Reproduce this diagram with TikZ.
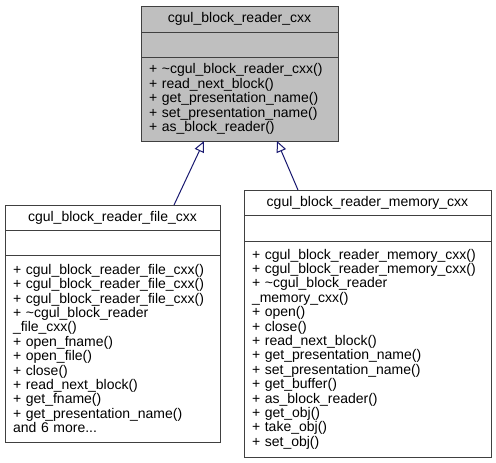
\documentclass[tikz,border=0pt]{standalone}
\usepackage{fontspec}
\setmainfont{Liberation Sans}
\usetikzlibrary{positioning,arrows.meta}
\definecolor{boxline}{HTML}{404040}
\definecolor{basefill}{HTML}{BFBFBF}
\definecolor{linkblue}{HTML}{191970}
\begin{document}
\begin{tikzpicture}[x=1pt, y=1pt,
    part/.style={draw=boxline, line width=1pt, outer sep=0pt, inner sep=0pt, font=\fontsize{14}{14.4}\selectfont},
    members/.style={part, align=left, inner xsep=8pt, text width=#1},
    inherit/.style={draw=linkblue, line width=1pt, -{Triangle[open, length=11pt, width=10pt]}}]
    \useasboundingbox (0,0) rectangle (496,-463);
        % base class
        \node[part, fill=basefill, minimum width=197pt, minimum height=26pt] (base) at (239.5,-19) {cgul\_block\_reader\_cxx};
        \node[part, fill=basefill, minimum width=197pt, minimum height=25pt, below=0pt of base] (base attr) {};
        \node[members=181pt, fill=basefill, minimum width=197pt, minimum height=84pt, below=0pt of base attr] (base ops) {+ \textasciitilde cgul\_block\_reader\_cxx()\\+ read\_next\_block()\\+ get\_presentation\_name()\\+ set\_presentation\_name()\\+ as\_block\_reader()};
        % file reader
        \node[part, minimum width=215pt, minimum height=25pt] (file) at (112.5,-217.5) {cgul\_block\_reader\_file\_cxx};
        \node[part, minimum width=215pt, minimum height=25pt, below=0pt of file] (file attr) {};
        \node[members=199pt, minimum width=215pt, minimum height=187pt, below=0pt of file attr] (file ops) {+ cgul\_block\_reader\_file\_cxx()\\+ cgul\_block\_reader\_file\_cxx()\\+ cgul\_block\_reader\_file\_cxx()\\+ \textasciitilde cgul\_block\_reader\\\_file\_cxx()\\+ open\_fname()\\+ open\_file()\\+ close()\\+ read\_next\_block()\\+ get\_fname()\\+ get\_presentation\_name()\\and 6 more...};
        % memory reader
        \node[part, minimum width=247pt, minimum height=25pt] (memory) at (367.5,-202.5) {cgul\_block\_reader\_memory\_cxx};
        \node[part, minimum width=247pt, minimum height=26pt, below=0pt of memory] (memory attr) {};
        \node[members=231pt, minimum width=247pt, minimum height=216pt, below=0pt of memory attr] (memory ops) {+ cgul\_block\_reader\_memory\_cxx()\\+ cgul\_block\_reader\_memory\_cxx()\\+ \textasciitilde cgul\_block\_reader\\\_memory\_cxx()\\+ open()\\+ close()\\+ read\_next\_block()\\+ get\_presentation\_name()\\+ set\_presentation\_name()\\+ get\_buffer()\\+ as\_block\_reader()\\+ get\_obj()\\+ take\_obj()\\+ set\_obj()};
        % inheritance
        \draw[inherit] ([xshift=61.5pt]file.north) -- ([xshift=-35.5pt]base ops.south);
        \draw[inherit] ([xshift=-69.5pt]memory.north) -- ([xshift=37.5pt]base ops.south);
\end{tikzpicture}
\end{document}
